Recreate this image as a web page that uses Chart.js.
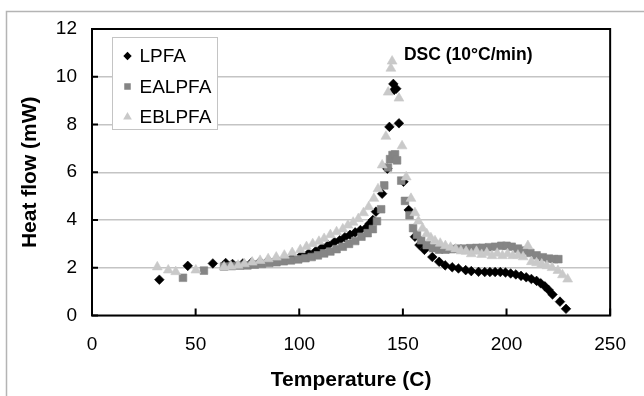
<!DOCTYPE html>
<html>
<head>
<meta charset="utf-8">
<script src="https://cdn.jsdelivr.net/npm/chart.js@4/dist/chart.umd.min.js"></script>
<style>
  html, body { margin: 0; padding: 0; background: #fff; }
  #wrap { width: 644px; height: 396px; position: relative; }
  canvas { display: block; }
</style>
</head>
<body>
<div id="wrap"><canvas id="c" width="644" height="396"></canvas></div>
<script>
// ---- data ----
const seriesNames = ["LPFA", "EALPFA", "EBLPFA"];

const lpfaT = [32.5, 46.2, 58.3, 64.5, 67.8, 72.8, 77, 81, 85, 89, 93, 97, 101, 104.5, 108, 111, 114, 117, 119.5, 122, 124.5, 127, 129.5, 132, 134, 135.5, 137, 140, 142.5, 143.5, 145.4, 145.8, 146.8, 148.1, 150.3, 152.8, 155.8, 158, 160.4, 164.2, 167.5, 170.4, 173.8, 176.8, 180.3, 183, 186.5, 189.5, 192, 194.5, 197, 199.5, 202, 204.5, 207, 209.5, 212, 214.5, 216.5, 218.5, 220.3, 222.2, 225.8, 228.7];
const lpfaQ = [1.5, 2.08, 2.18, 2.2, 2.16, 2.18, 2.22, 2.25, 2.3, 2.35, 2.4, 2.45, 2.52, 2.6, 2.7, 2.85, 2.95, 3.08, 3.15, 3.28, 3.38, 3.48, 3.58, 3.65, 3.85, 4.0, 4.35, 5.1, 6.15, 7.9, 9.7, 9.45, 9.5, 8.05, 5.6, 4.42, 3.3, 2.95, 2.75, 2.45, 2.25, 2.1, 2.02, 1.97, 1.9, 1.86, 1.83, 1.82, 1.82, 1.82, 1.82, 1.8, 1.76, 1.72, 1.66, 1.6, 1.53, 1.45, 1.35, 1.22, 1.07, 0.88, 0.58, 0.28];

const ealpfaT = [43.9, 54, 63.7, 67.5, 71.4, 75, 78.5, 82, 85.5, 89, 92.5, 96, 99.5, 103, 106, 109, 112, 115, 118, 121, 124, 127, 130, 133, 135.5, 137.5, 139.5, 141, 142.8, 143.8, 145, 146.2, 147.2, 149.2, 151, 153.2, 154.9, 156.8, 158.8, 161.5, 164.5, 167.5, 170.5, 173.5, 176.5, 179.5, 182.5, 185.5, 188.5, 191.5, 194.5, 197.5, 200, 202.5, 205.5, 208.5, 211.5, 214.5, 217.5, 220.5, 223, 225];
const ealpfaQ = [1.58, 1.88, 2.05, 2.07, 2.09, 2.1, 2.13, 2.16, 2.2, 2.23, 2.27, 2.31, 2.35, 2.4, 2.45, 2.52, 2.6, 2.68, 2.78, 2.88, 3.0, 3.12, 3.3, 3.45, 3.62, 3.95, 4.45, 5.45, 6.2, 6.55, 6.72, 6.75, 6.5, 5.65, 4.8, 4.2, 3.66, 3.38, 3.15, 2.95, 2.82, 2.76, 2.76, 2.78, 2.8, 2.8, 2.82, 2.83, 2.84, 2.86, 2.88, 2.92, 2.92, 2.88, 2.8, 2.72, 2.62, 2.52, 2.44, 2.38, 2.36, 2.36];

const eblpfaT = [31.5, 36.8, 40.4, 50.1, 63.7, 67, 70.5, 73.5, 77.3, 81.1, 85, 88.9, 92.8, 96.6, 100.5, 103.5, 106.5, 109.5, 112, 115, 118, 121, 123.5, 126, 128.5, 131, 133.5, 136, 138, 140, 141.8, 142.9, 144.2, 144.8, 148.1, 149.6, 151.6, 153.9, 155.8, 157.5, 159.5, 161.5, 163.5, 165.5, 168, 170.5, 173, 175.5, 178, 180.5, 183, 185.5, 188, 190.5, 193, 195.5, 198, 200.5, 203, 205.5, 208, 210.3, 212, 214.5, 217, 219.5, 222, 224.8, 227, 229.5];
const eblpfaQ = [2.03, 1.9, 1.83, 1.9, 2.03, 2.06, 2.1, 2.16, 2.23, 2.3, 2.37, 2.44, 2.52, 2.63, 2.75, 2.88, 3.0, 3.1, 3.22, 3.38, 3.5, 3.62, 3.78, 3.9, 4.05, 4.3, 4.55, 4.9, 5.3, 6.3, 7.5, 9.35, 10.35, 10.65, 9.1, 7.1, 5.8, 4.9, 4.3, 3.95, 3.65, 3.42, 3.25, 3.12, 3.02, 2.92, 2.85, 2.78, 2.7, 2.68, 2.58, 2.68, 2.55, 2.62, 2.5, 2.6, 2.5, 2.58, 2.5, 2.52, 2.45, 2.92, 2.25, 2.2, 2.15, 2.08, 2.0, 1.88, 1.7, 1.52];

const xTicks = [0, 50, 100, 150, 200, 250];
const yTicks = [0, 2, 4, 6, 8, 10, 12];
const xTitle = "Temperature (C)";
const yTitle = "Heat flow (mW)";
const noteText = "DSC (10°C/min)";
const notePos = { x: 150.5, y: 10.9 };

// ---- styling ----
const FONT = "'Liberation Sans', Arial, Helvetica, sans-serif";
const styles = [
  { color: "#000000", shape: "rectRot", r: 4.8, lr: 4.2 },
  { color: "#858585", shape: "rect", r: 5.4, lr: 4.6 },
  { color: "#c9c9c9", shape: "triangle", r: 5.7, lr: 5.0 }
];
const pairs = (xs, ys) => xs.map((x, i) => ({ x: x, y: ys[i] }));
const allData = [pairs(lpfaT, lpfaQ), pairs(ealpfaT, ealpfaQ), pairs(eblpfaT, eblpfaQ)];
const drawOrder = [2, 1, 0]; // later series drawn on top (Excel style)

function drawMarker(ctx, shape, x, y, r, color) {
  ctx.save();
  ctx.fillStyle = color;
  ctx.beginPath();
  if (shape === "rectRot") {
    ctx.moveTo(x, y - r); ctx.lineTo(x + r, y); ctx.lineTo(x, y + r); ctx.lineTo(x - r, y);
  } else if (shape === "rect") {
    const h = r * Math.SQRT1_2;
    ctx.rect(x - h, y - h, 2 * h, 2 * h);
  } else {
    const a = Math.PI * 2 / 3;
    ctx.moveTo(x, y - r);
    ctx.lineTo(x + Math.sin(a) * r, y - Math.cos(a) * r);
    ctx.lineTo(x + Math.sin(2 * a) * r, y - Math.cos(2 * a) * r);
  }
  ctx.closePath();
  ctx.fill();
  ctx.restore();
}

const decor = {
  id: "decor",
  beforeDraw(chart) {
    const ctx = chart.ctx;
    ctx.save();
    ctx.fillStyle = "#fff";
    ctx.fillRect(0, 0, chart.width, chart.height);
    ctx.strokeStyle = "#b4b4b4";
    ctx.lineWidth = 1.5;
    ctx.beginPath();
    ctx.moveTo(6.5, chart.height);
    ctx.lineTo(6.5, 11.5);
    ctx.lineTo(chart.width, 11.5);
    ctx.stroke();
    ctx.restore();
  },
  beforeDatasetsDraw(chart) {
    const ctx = chart.ctx, a = chart.chartArea;
    const xs = chart.scales.x, ys = chart.scales.y;
    ctx.save();
    ctx.strokeStyle = "#000";
    ctx.lineWidth = 2;
    ctx.strokeRect(a.left, a.top, a.right - a.left, a.bottom - a.top);
    ctx.beginPath();
    yTicks.forEach(v => {
      const p = ys.getPixelForValue(v);
      ctx.moveTo(a.left, p); ctx.lineTo(a.left + 6, p);
    });
    xTicks.forEach(v => {
      const p = xs.getPixelForValue(v);
      ctx.moveTo(p, a.bottom); ctx.lineTo(p, a.bottom - 7);
    });
    ctx.stroke();
    ctx.restore();
  },
  afterDatasetsDraw(chart) {
    const ctx = chart.ctx, a = chart.chartArea;
    const xs = chart.scales.x, ys = chart.scales.y;
    ctx.save();
    // annotation
    ctx.fillStyle = "#000";
    ctx.font = "bold 17.5px " + FONT;
    ctx.textAlign = "left";
    ctx.textBaseline = "middle";
    ctx.fillText(noteText, xs.getPixelForValue(notePos.x), ys.getPixelForValue(notePos.y));
    // legend box
    const bx = a.left + 20.5, by = a.top + 8.5, bw = 105, bh = 92;
    ctx.fillStyle = "#fff";
    ctx.fillRect(bx, by, bw, bh);
    ctx.strokeStyle = "#c4c4c4";
    ctx.lineWidth = 1;
    ctx.strokeRect(bx, by, bw, bh);
    ctx.font = "19px " + FONT;
    ctx.fillStyle = "#000";
    seriesNames.forEach((name, i) => {
      const cy = by + 18.5 + i * 30.5;
      drawMarker(ctx, styles[i].shape, bx + 15, cy, styles[i].lr, styles[i].color);
      ctx.fillStyle = "#000";
      ctx.fillText(name, bx + 27, cy + 1);
    });
    ctx.restore();
  }
};

const datasets = seriesNames.map((name, i) => ({
  label: name,
  data: allData[i],
  order: drawOrder[i],
  pointStyle: styles[i].shape,
  pointRadius: styles[i].r,
  pointBackgroundColor: styles[i].color,
  pointBorderColor: styles[i].color,
  pointBorderWidth: 0.6,
  showLine: false
}));

new Chart(document.getElementById("c"), {
  type: "scatter",
  data: { datasets: datasets },
  options: {
    responsive: false,
    animation: false,
    devicePixelRatio: 1,
    events: [],
    layout: { padding: { top: 29, right: 23, bottom: 0, left: 0 } },
    plugins: { legend: { display: false }, tooltip: { enabled: false } },
    scales: {
      x: {
        type: "linear",
        min: 0, max: 250,
        afterBuildTicks: s => { s.ticks = xTicks.map(v => ({ value: v })); },
        afterFit: s => { s.height = 80.5; },
        grid: { display: false, drawTicks: false },
        border: { display: false },
        ticks: { color: "#000", font: { family: FONT, size: 19 }, padding: 18, maxRotation: 0 },
        title: { display: true, text: xTitle, color: "#000", font: { family: FONT, size: 21, weight: "bold" }, padding: { top: 0, bottom: 3 } }
      },
      y: {
        type: "linear",
        min: 0, max: 12,
        afterBuildTicks: s => { s.ticks = yTicks.map(v => ({ value: v })); },
        afterFit: s => { s.width = 92; },
        grid: { color: "#c4c4c4", lineWidth: 1.4, drawTicks: false },
        border: { display: false },
        ticks: { color: "#000", font: { family: FONT, size: 19 }, padding: 15 },
        title: { display: true, text: yTitle, color: "#000", font: { family: FONT, size: 21, weight: "bold" }, padding: { top: 18, bottom: 0 } }
      }
    }
  },
  plugins: [decor]
});
</script>
</body>
</html>
